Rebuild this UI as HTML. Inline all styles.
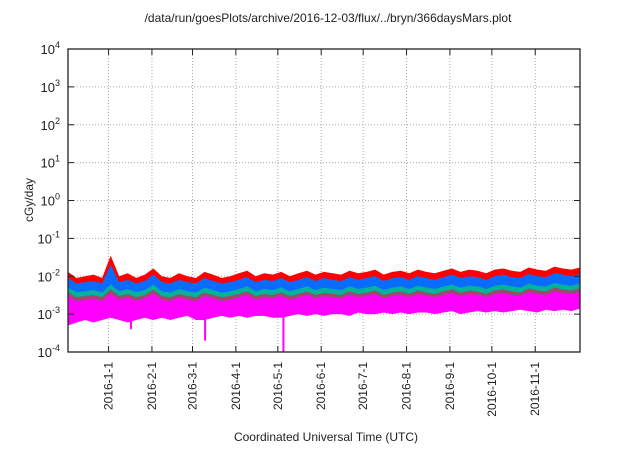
<!DOCTYPE html>
<html><head><meta charset="utf-8"><style>
body{margin:0;background:#fff}
svg text{font-family:"Liberation Sans",sans-serif;fill:#222}
</style></head><body>
<svg id="c" width="640" height="448" xmlns="http://www.w3.org/2000/svg"></svg>
<script>
const monthLabels=["2016-1-1","2016-2-1","2016-3-1","2016-4-1","2016-5-1","2016-6-1","2016-7-1","2016-8-1","2016-9-1","2016-10-1","2016-11-1"];
const monthDays=[29,60,89,120,150,181,211,242,273,303,334];
const yTickExps=[-4,-3,-2,-1,0,1,2,3,4];
// values in units of 1e-3 cGy/day, sampled evenly over 366 days
const redTop=[13,9,10,11,9,35,10,12,9,11,16,10,9,12,10,9,13,11,9,10,12,14,10,12,11,13,10,12,14,11,13,12,11,14,12,13,15,11,13,14,12,15,13,12,14,16,13,15,14,12,15,16,14,13,17,15,14,18,16,15,17];
const blueTop=[9,6.5,7,7.5,6.5,20,7,8,6.5,7.5,11,7,6.5,8,7,6.5,9,7.5,6.5,7,8,9.5,7,8,7.5,9,7,8,9.5,7.5,9,8,7.5,9.5,8,9,10,7.5,9,9.5,8,10,9,8,9.5,11,9,10,9.5,8,10,11,9.5,9,11.5,10,9.5,12,11,10,11.5];
const tealTop=[5,3.8,4,4.3,3.7,6,4,4.6,3.8,4.3,6,4,3.7,4.6,4,3.7,5,4.3,3.7,4,4.6,5.4,4,4.6,4.3,5,4,4.6,5.4,4.3,5,4.6,4.3,5.4,4.6,5,5.6,4.3,5,5.4,4.6,5.6,5,4.6,5.4,6,5,5.6,5.4,4.6,5.6,6,5.4,5,6.4,5.6,5.4,6.6,6,5.6,6.4];
const brownTop=[3.8,2.8,3,3.2,2.8,4.5,3,3.4,2.8,3.2,4.4,3,2.8,3.4,3,2.8,3.7,3.2,2.8,3,3.4,4,3,3.4,3.2,3.7,3,3.4,4,3.2,3.7,3.4,3.2,4,3.4,3.7,4.2,3.2,3.7,4,3.4,4.2,3.7,3.4,4,4.5,3.7,4.2,4,3.4,4.2,4.5,4,3.7,4.8,4.2,4,5,4.5,4.2,4.8];
const magentaTop=[3,2.2,2.4,2.6,2.2,3.5,2.4,2.8,2.2,2.6,3.5,2.4,2.2,2.8,2.4,2.2,3,2.6,2.2,2.4,2.8,3.2,2.4,2.8,2.6,3,2.4,2.8,3.2,2.6,3,2.8,2.6,3.2,2.8,3,3.4,2.6,3,3.2,2.8,3.4,3,2.8,3.2,3.6,3,3.4,3.2,2.8,3.4,3.6,3.2,3,3.8,3.4,3.2,4,3.6,3.4,3.8];
const magentaBottom=[0.5,0.6,0.7,0.6,0.7,0.8,0.7,0.6,0.7,0.8,0.7,0.8,0.7,0.8,0.9,0.7,0.7,0.8,0.9,0.8,0.9,0.8,0.9,0.9,0.8,0.8,0.9,1,0.9,1,0.9,1,1,0.9,1.1,1,1,1.1,1,1.1,1,1.1,1.1,1,1.1,1.2,1,1.1,1.2,1.1,1.2,1.1,1.2,1.3,1.2,1.1,1.3,1.2,1.3,1.2,1.4];
const dipDays=[45,98,154];
const dipValues=[0.4,0.2,0.1];
const dipTops=[0.7,0.8,0.9];
const seriesColors=["#ff0000","#0a6cff","#00b39a","#9b4a6a","#ff00ff"];
const seriesNames=["red","blue","teal","brown","magenta"];

const L=68,R=580,T=49,B=352;
const NS="http://www.w3.org/2000/svg";
const svg=document.getElementById("c");
function xs(d){return L+(R-L)*d/366;}
function ys(v){return B-(B-T)*(Math.log10(v)+4)/8;}
function mk(t,a,p){const e=document.createElementNS(NS,t);for(const k in a)e.setAttribute(k,a[k]);(p||svg).appendChild(e);return e;}

for(const e of yTickExps){
  if(e>-4&&e<4){const g=mk("line",{x1:L,x2:R,y1:ys(Math.pow(10,e)),y2:ys(Math.pow(10,e)),stroke:"#aaa","stroke-dasharray":"1,2"});
  
  }
}
monthDays.forEach(d=>{const g=mk("line",{x1:xs(d),x2:xs(d),y1:T,y2:B,stroke:"#aaa","stroke-dasharray":"1,2"});
  
  });

const all=[redTop,blueTop,tealTop,brownTop,magentaTop];
all.forEach((s,k)=>{
  const n=s.length;let pts=[];
  for(let i=0;i<n;i++)pts.push(xs(i*366/(n-1))+","+ys(s[i]*1e-3));
  const low=k<4?all[k+1].map(v=>v*0.8):magentaBottom;
  for(let i=n-1;i>=0;i--)pts.push(xs(i*366/(n-1))+","+ys(low[i]*1e-3));
  const p=mk("polygon",{points:pts.join(" "),fill:seriesColors[k]});
  
  
});
dipDays.forEach((d,i)=>{
  const l=mk("line",{x1:xs(d),x2:xs(d),y1:ys(dipTops[i]*1e-3),y2:ys(dipValues[i]*1e-3),stroke:"#ff00ff","stroke-width":2});
  
  
});

const fr=mk("rect",{x:L,y:T,width:R-L,height:B-T,fill:"none",stroke:"#222","stroke-width":1.3});



yTickExps.forEach(e=>{
  const y=ys(Math.pow(10,e));
  mk("line",{x1:L,x2:L+6,y1:y,y2:y,stroke:"#222"});
  mk("line",{x1:R,x2:R-6,y1:y,y2:y,stroke:"#222"});
  const t=mk("text",{x:L-8,y:y+5,"text-anchor":"end","font-size":13});
  
  
  t.textContent="10";
  const s=mk("tspan",{dy:-6,"font-size":9},t);s.textContent=String(e);
});
monthDays.forEach((d,i)=>{
  const x=xs(d);
  mk("line",{x1:x,x2:x,y1:B,y2:B-6,stroke:"#222"});
  mk("line",{x1:x,x2:x,y1:T,y2:T+6,stroke:"#222"});
  const t=mk("text",{x:0,y:0,"text-anchor":"end","font-size":12,transform:`translate(${x+4},${B+10}) rotate(-90)`});
  
  
  t.textContent=monthLabels[i];
});
const ti=mk("text",{x:328,y:22,"text-anchor":"middle","font-size":12});


ti.textContent="/data/run/goesPlots/archive/2016-12-03/flux/../bryn/366daysMars.plot";
const yl=mk("text",{x:0,y:0,"text-anchor":"middle","font-size":12,transform:"translate(33,200) rotate(-90)"});


yl.textContent="cGy/day";
const xl=mk("text",{x:326,y:441,"text-anchor":"middle","font-size":12});


xl.textContent="Coordinated Universal Time (UTC)";
</script>
</body></html>
